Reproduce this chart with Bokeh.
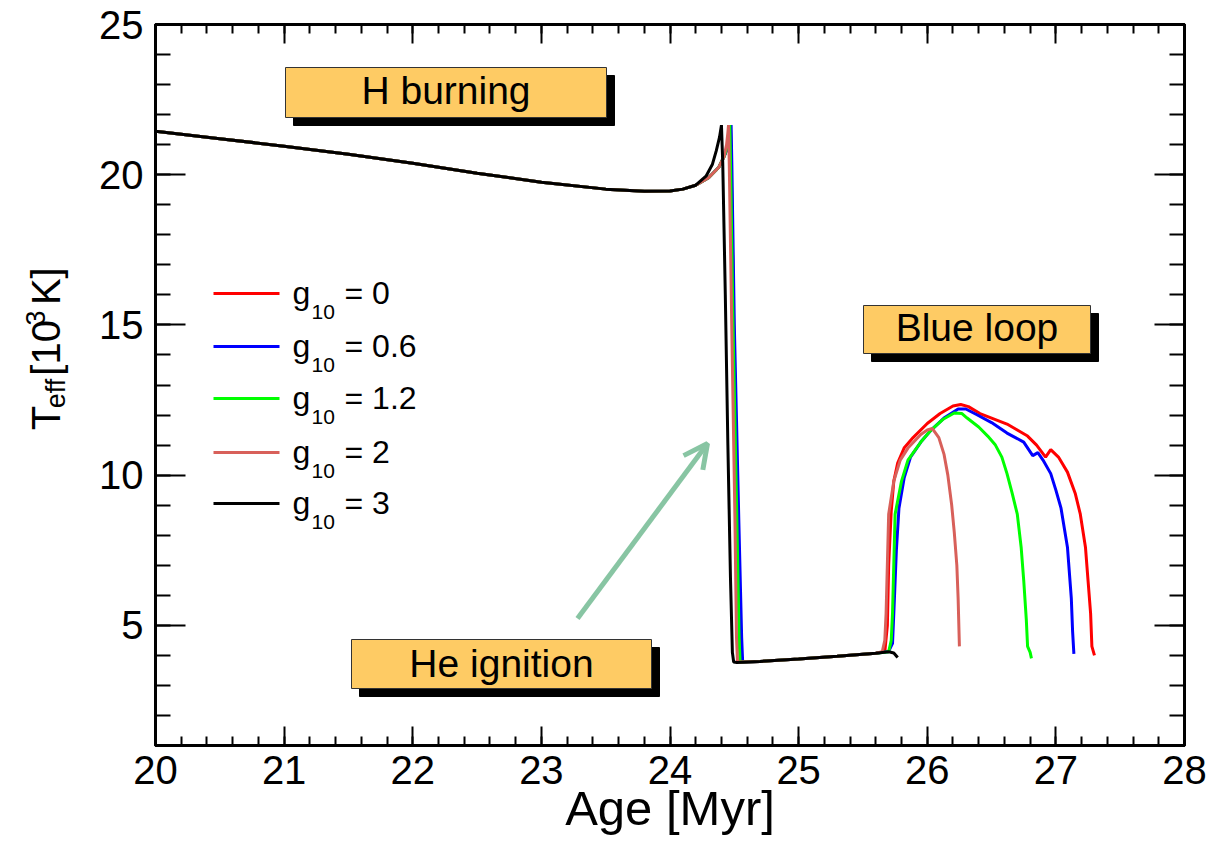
import numpy as np
from bokeh.plotting import figure
from bokeh.layouts import row
from bokeh.models import (Range1d, LinearAxis, SingleIntervalTicker, Label, Arrow,
                          OpenHead, CustomJSTickFormatter)
from bokeh.embed import file_html
from bokeh.resources import INLINE

# ---------------- data ----------------
g10_labels = ["0", "0.6", "1.2", "2", "3"]
colors = ["#ff0000", "#0000ff", "#00ff00", "#d8605a", "#000000"]

early_age = [20.0, 20.5, 21.0, 21.5, 22.0, 22.5, 23.0, 23.5, 23.8, 24.0, 24.1, 24.2]
early_T = [21.45, 21.2, 20.95, 20.68, 20.38, 20.05, 19.75, 19.52, 19.45, 19.46, 19.52, 19.65]

age_g0 = early_age + [24.3, 24.38, 24.42, 24.455, 24.465, 24.47, 24.476, 24.495, 24.525, 24.542, 24.55,
                      24.7, 25.0, 25.3, 25.6, 25.67, 25.69, 25.70, 25.72, 25.74, 25.77, 25.82, 25.89,
                      26.0, 26.1, 26.2, 26.26, 26.32, 26.41, 26.5, 26.62, 26.7, 26.78, 26.85, 26.92,
                      26.96, 27.02, 27.09, 27.15, 27.19, 27.23, 27.25, 27.27, 27.28, 27.30]
T_g0 = early_T + [19.9, 20.25, 20.6, 21.0, 21.4, 21.65, 20.3, 15.0, 8.5, 4.6, 3.78,
                  3.8, 3.88, 3.97, 4.07, 4.12, 5.0, 7.0, 8.8, 9.8, 10.4, 10.9, 11.25,
                  11.72, 12.05, 12.3, 12.35, 12.28, 12.05, 11.9, 11.7, 11.5, 11.3, 11.0, 10.6,
                  10.85, 10.6, 10.1, 9.4, 8.7, 7.6, 6.5, 5.4, 4.3, 4.0]

age_g06 = early_age + [24.3, 24.38, 24.42, 24.46, 24.47, 24.475, 24.481, 24.50, 24.535, 24.557, 24.565,
                       24.7, 25.0, 25.3, 25.6, 25.7, 25.73, 25.74, 25.76, 25.78, 25.82, 25.87, 25.95,
                       26.03, 26.13, 26.24, 26.3, 26.39, 26.5, 26.62, 26.75, 26.82, 26.86, 26.9, 26.96,
                       27.0, 27.04, 27.09, 27.12, 27.13, 27.14]
T_g06 = early_T + [19.9, 20.25, 20.6, 21.0, 21.4, 21.65, 20.3, 15.0, 8.5, 4.6, 3.78,
                   3.8, 3.88, 3.97, 4.07, 4.13, 4.4, 5.4, 7.5, 8.9, 9.9, 10.6, 11.1,
                   11.5, 11.9, 12.2, 12.2, 12.0, 11.75, 11.4, 11.1, 10.65, 10.75, 10.5, 10.05,
                   9.5, 8.9, 7.6, 5.9, 4.8, 4.05]

age_g12 = early_age + [24.3, 24.38, 24.42, 24.45, 24.46, 24.465, 24.471, 24.49, 24.52, 24.537, 24.545,
                       24.7, 25.0, 25.3, 25.6, 25.7, 25.72, 25.73, 25.75, 25.8, 25.85, 25.95, 26.03,
                       26.12, 26.21, 26.27, 26.31, 26.4, 26.47, 26.53, 26.58, 26.62, 26.66, 26.70,
                       26.73, 26.75, 26.77, 26.78, 26.80, 26.81]
T_g12 = early_T + [19.9, 20.25, 20.6, 21.0, 21.4, 21.65, 20.3, 15.0, 8.5, 4.6, 3.78,
                   3.8, 3.88, 3.97, 4.07, 4.12, 4.5, 5.4, 8.7, 9.8, 10.5, 11.1, 11.5,
                   11.85, 12.07, 12.05, 11.9, 11.6, 11.3, 11.0, 10.6, 10.05, 9.4, 8.7,
                   7.6, 6.5, 5.2, 4.3, 4.1, 3.9]

age_g2 = early_age + [24.3, 24.38, 24.42, 24.44, 24.45, 24.455, 24.461, 24.48, 24.505, 24.517, 24.525,
                      24.7, 25.0, 25.3, 25.6, 25.65, 25.67, 25.68, 25.70, 25.74, 25.79, 25.85, 25.95,
                      26.0, 26.04, 26.09, 26.13, 26.16, 26.19, 26.21, 26.23, 26.24, 26.25]
T_g2 = early_T + [19.9, 20.25, 20.6, 21.0, 21.4, 21.65, 20.3, 15.0, 8.5, 4.6, 3.78,
                  3.8, 3.88, 3.97, 4.07, 4.12, 4.5, 5.4, 8.7, 9.8, 10.5, 10.9, 11.35,
                  11.5, 11.55, 11.25, 10.7, 10.0, 9.0, 8.1, 7.0, 5.9, 4.3]

age_g3 = early_age + [24.28, 24.33, 24.36, 24.385, 24.40, 24.41, 24.42, 24.43, 24.45, 24.47, 24.485,
                      24.495, 24.52, 24.7, 25.0, 25.3, 25.6, 25.7, 25.74, 25.77]
T_g3 = early_T + [19.95, 20.35, 20.8, 21.25, 21.65, 20.4, 18.2, 16.0, 11.0, 6.6, 4.1,
                  3.78, 3.76, 3.8, 3.88, 3.97, 4.07, 4.12, 4.08, 3.93]

series_age = [age_g0, age_g06, age_g12, age_g2, age_g3]
series_T = [T_g0, T_g06, T_g12, T_g2, T_g3]

x_ticks_range = (20, 28)
y_ticks_range = (1, 25)

# ---------------- layout helpers ----------------
W, H = 1211, 854
STRIP = 90                      # width of the left strip holding the y label
FL, FR, FT, FB = 155, 1184, 24, 745   # frame edges in page pixels
X0, X1 = x_ticks_range
Y0, Y1 = y_ticks_range
BASE_FIX = 0.26                 # baseline correction (fraction of font size)


def dx(px):
    return X0 + (px - FL) * (X1 - X0) / (FR - FL)


def dy(py):
    return Y0 + (FB - py) * (Y1 - Y0) / (FB - FT)


FONT = "Liberation Sans"

p = figure(width=W - STRIP, height=H, x_range=Range1d(X0, X1), y_range=Range1d(Y0, Y1),
           output_backend="svg", toolbar_location=None,
           min_border_left=FL - STRIP, min_border_right=W - FR, min_border_top=FT,
           min_border_bottom=H - FB)
p.grid.visible = False
p.outline_line_color = "black"
p.outline_line_width = 3
p.background_fill_color = "white"
p.border_fill_color = "white"


def style_axis(ax, major_in, minor_in, show_labels):
    ax.axis_line_width = 3
    ax.axis_line_color = "black"
    ax.major_tick_in = major_in
    ax.major_tick_out = 0
    ax.minor_tick_in = minor_in
    ax.minor_tick_out = 0
    ax.major_tick_line_width = 2
    ax.minor_tick_line_width = 2
    ax.major_tick_line_color = "black"
    ax.minor_tick_line_color = "black"
    ax.major_label_text_font = FONT
    ax.major_label_text_font_size = "40px"
    ax.major_label_text_color = "black"
    if not show_labels:
        ax.formatter = CustomJSTickFormatter(code="return ''")


p.xaxis.ticker = SingleIntervalTicker(interval=1, num_minor_ticks=5)
p.yaxis.ticker = SingleIntervalTicker(interval=5, num_minor_ticks=5)
style_axis(p.xaxis[0], 19, 9, True)
style_axis(p.yaxis[0], 30, 15, True)
p.xaxis.major_label_standoff = 10
p.yaxis.major_label_standoff = 12
p.xaxis.axis_label = "Age [Myr]"
p.xaxis.axis_label_text_font = FONT
p.xaxis.axis_label_text_font_size = "49px"
p.xaxis.axis_label_text_font_style = "normal"
p.xaxis.axis_label_text_color = "black"
p.xaxis.axis_label_standoff = -6

top = LinearAxis(ticker=SingleIntervalTicker(interval=1, num_minor_ticks=5))
style_axis(top, 19, 9, False)
p.add_layout(top, "above")
right = LinearAxis(ticker=SingleIntervalTicker(interval=5, num_minor_ticks=5))
style_axis(right, 30, 15, False)
p.add_layout(right, "right")

# ---------------- curves ----------------
for a, t, c in zip(series_age, series_T, colors):
    p.line(a, t, line_color=c, line_width=3)


def dlabel(px, base_py, text, size, align="left"):
    p.add_layout(Label(x=dx(px), y=dy(base_py - BASE_FIX * size), text=text,
                       text_font=FONT, text_font_size=f"{size}px", text_color="black",
                       text_align=align, text_baseline="alphabetic"))


# ---------------- boxes ----------------
BOX_FILL = "#fecb64"


def box(l, t, r, b, text, base_px, size=39):
    sh = 8
    p.quad(left=dx(l + sh), right=dx(r + sh), top=dy(t + sh), bottom=dy(b + sh),
           fill_color="black", line_color="black")
    p.quad(left=dx(l), right=dx(r), top=dy(t), bottom=dy(b),
           fill_color=BOX_FILL, line_color="#333333", line_width=1)
    dlabel((l + r) / 2, base_px, text, size, align="center")


box(285, 67, 606, 117, "H burning", 100)
box(863, 305, 1090, 353, "Blue loop", 337)
box(351, 639, 651, 688, "He ignition", 673)

# ---------------- arrow ----------------
ARROW_C = "#88c5a3"
p.add_layout(Arrow(end=OpenHead(size=24, line_color=ARROW_C, line_width=5),
                   x_start=dx(577), y_start=dy(618), x_end=dx(707), y_end=dy(443),
                   line_color=ARROW_C, line_width=5))

# ---------------- legend ----------------
leg_y = [293, 346, 398, 452, 503]
for yy, lab, c in zip(leg_y, g10_labels, colors):
    p.line([dx(213), dx(279)], [dy(yy), dy(yy)], line_color=c, line_width=3)
    dlabel(292, yy + 8, "g", 32)
    dlabel(311, yy + 24, "10", 21)
    dlabel(344, yy + 8, "= " + lab, 32)

# ---------------- y label strip ----------------
ylab = figure(width=STRIP, height=H, x_range=Range1d(0, STRIP), y_range=Range1d(0, H),
              output_backend="svg", toolbar_location=None, min_border=0,
              x_axis_location=None, y_axis_location=None)
ylab.grid.visible = False
ylab.outline_line_color = None
ylab.border_fill_color = "white"

ang = np.pi / 2
# (text, font px, centre x, centre y) in page pixels; rotated text, centred anchor
pieces = [("T", 40, 45, 466), ("eff", 27, 55, 437), ("[10", 40, 45, 383),
          ("3", 27, 35, 347.5), ("K]", 40, 45, 310)]
for txt, sz, cx, cy in pieces:
    ylab.add_layout(Label(x=cx, y=H - cy, text=txt, angle=ang,
                          text_font=FONT, text_font_size=f"{sz}px", text_color="black",
                          text_align="center", text_baseline="middle"))

layout = row(ylab, p, spacing=0)
open("out.html", "w").write(file_html(layout, INLINE))
